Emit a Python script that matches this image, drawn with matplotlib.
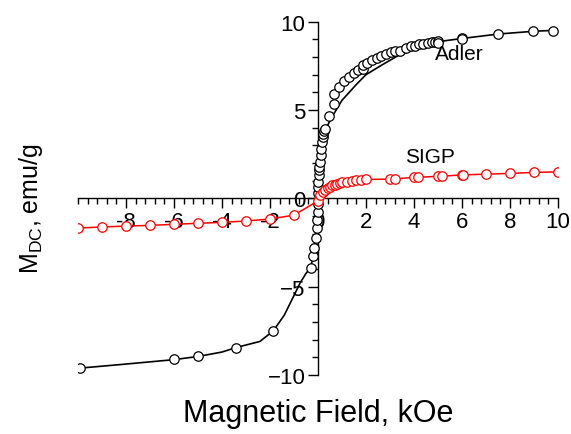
import matplotlib
matplotlib.use("Agg")
import matplotlib.pyplot as plt
from matplotlib.ticker import MultipleLocator, AutoMinorLocator

plt.rcParams['font.family'] = ['Liberation Sans', 'DejaVu Sans']
plt.rcParams['mathtext.default'] = 'regular'

# Adler sample, measured points (kOe, emu/g)
adler_h = [-9.9, -6.0, -5.0, -3.43, -1.86,
           -0.3, -0.19, -0.15, -0.1, -0.06, -0.03, -0.02, 0.0, 0.0, -0.02,
           0.02, 0.05, 0.05, 0.05, 0.08, 0.11, 0.11, 0.16, 0.19, 0.22, 0.26, 0.29,
           0.47, 0.67, 0.67, 0.89, 1.1, 1.31, 1.5, 1.65, 1.86, 1.86, 2.06, 2.24,
           2.44, 2.61, 2.83, 3.03, 3.21, 3.42, 3.67, 3.86, 4.04, 4.22, 4.39, 4.6,
           4.74, 4.88, 5.01, 5.01, 5.99, 5.99, 7.49, 8.97, 9.8]
adler_m = [-9.6, -9.12, -8.93, -8.45, -7.49,
           -3.93, -3.28, -2.81, -2.25, -1.69, -1.22, -0.75, -0.3, 0.28, 0.66,
           0.94, 1.31, 1.59, 1.78, 2.06, 2.43, 2.81, 3.18, 3.46, 3.65, 3.84, 3.9,
           4.64, 5.34, 5.9, 6.33, 6.65, 6.89, 7.08, 7.25, 7.34, 7.53, 7.68, 7.81,
           7.94, 8.05, 8.18, 8.28, 8.37, 8.33, 8.52, 8.6, 8.65, 8.71, 8.76, 8.8,
           8.84, 8.86, 8.9, 8.8, 9.1, 9.03, 9.31, 9.49, 9.46]

# Adler sample, fitted curve
adler_fit_h = [-10, -8, -6, -5, -4, -3.43, -2.42, -1.86, -1.4, -1.0, -0.75,
               -0.5, -0.3, -0.15, -0.05, 0.0, 0.04, 0.1, 0.2, 0.36, 0.6, 0.8,
               1.0, 1.2, 1.6, 2.0, 2.6, 3.3, 4.0, 5.0, 6.0, 7.5, 9.0, 10.0]
adler_fit_m = [-9.62, -9.38, -9.13, -8.95, -8.7, -8.45, -8.1, -7.5, -6.6, -5.5,
               -4.8, -4.25, -3.9, -2.9, -1.8, -0.5, 1.0, 2.5, 3.5, 4.03, 4.65,
               5.1, 5.55, 5.85, 6.45, 7.0, 7.5, 8.05, 8.43, 8.87, 9.05, 9.3,
               9.46, 9.52]

# SIGP sample
sigp_h = [-10, -9, -8, -7, -6, -5, -4, -3, -2, -1, 0,
          0.1, 0.2, 0.3, 0.4, 0.5, 0.6, 0.7, 0.8, 0.9, 1.0, 1.2, 1.4, 1.6, 1.8,
          2.0, 3.0, 3.2, 4.0, 4.15, 5.0, 5.15, 6.0, 6.05, 7.0, 8.0, 9.0, 10.0]
sigp_m = [-1.68, -1.62, -1.57, -1.53, -1.47, -1.41, -1.36, -1.28, -1.17, -0.95,
          -0.14, 0.2, 0.36, 0.48, 0.58, 0.66, 0.73, 0.78, 0.83, 0.87, 0.9, 0.95,
          0.99, 1.02, 1.05, 1.07, 1.09, 1.1, 1.19, 1.19, 1.25, 1.25, 1.33, 1.33,
          1.37, 1.41, 1.47, 1.5]

fig = plt.figure(figsize=(5.71, 4.35), dpi=100)
ax = fig.add_axes([0.1366, 0.1356, 0.8406, 0.8122])

ax.plot(adler_fit_h, adler_fit_m, color='black', lw=1.2, zorder=2)
ax.plot(adler_h, adler_m, ls='none', marker='o', ms=6.8, mfc='white',
        mec='black', mew=0.9, zorder=3)
ax.plot(sigp_h, sigp_m, color='red', lw=1.1, marker='o', ms=6.8,
        mfc='white', mec='red', mew=0.9, zorder=4)

ax.text(4.875, 7.88, 'Adler', fontsize=15, ha='left', va='baseline')
ax.text(3.63, 2.04, 'SIGP', fontsize=15, ha='left', va='baseline')

ax.set_xlim(-10, 10)
ax.set_ylim(-10, 10)

# axes crossing at the origin
ax.spines['left'].set_position(('data', 0))
ax.spines['bottom'].set_position(('data', 0))
ax.spines['right'].set_visible(False)
ax.spines['top'].set_visible(False)
for s in ('left', 'bottom'):
    ax.spines[s].set_linewidth(1.0)

ax.xaxis.set_major_locator(MultipleLocator(2))
ax.xaxis.set_minor_locator(AutoMinorLocator(5))
ax.yaxis.set_major_locator(MultipleLocator(5))
ax.yaxis.set_minor_locator(AutoMinorLocator(5))
ax.tick_params(which='major', direction='out', length=7, width=1.0,
               labelsize=16, pad=2)
ax.tick_params(which='minor', direction='out', length=4, width=1.0)
ax.set_xticks(range(-8, 11, 2))
ax.set_xticklabels([str(v) for v in range(-8, 11, 2)])

fig.text(0.5571, 0.03, 'Magnetic Field, kOe', fontsize=22,
         ha='center', va='baseline')
fig.text(0.055, 0.52, 'M$_{DC}$, emu/g', fontsize=18, rotation=90,
         ha='center', va='center')

fig.savefig('out.png', dpi=100)
